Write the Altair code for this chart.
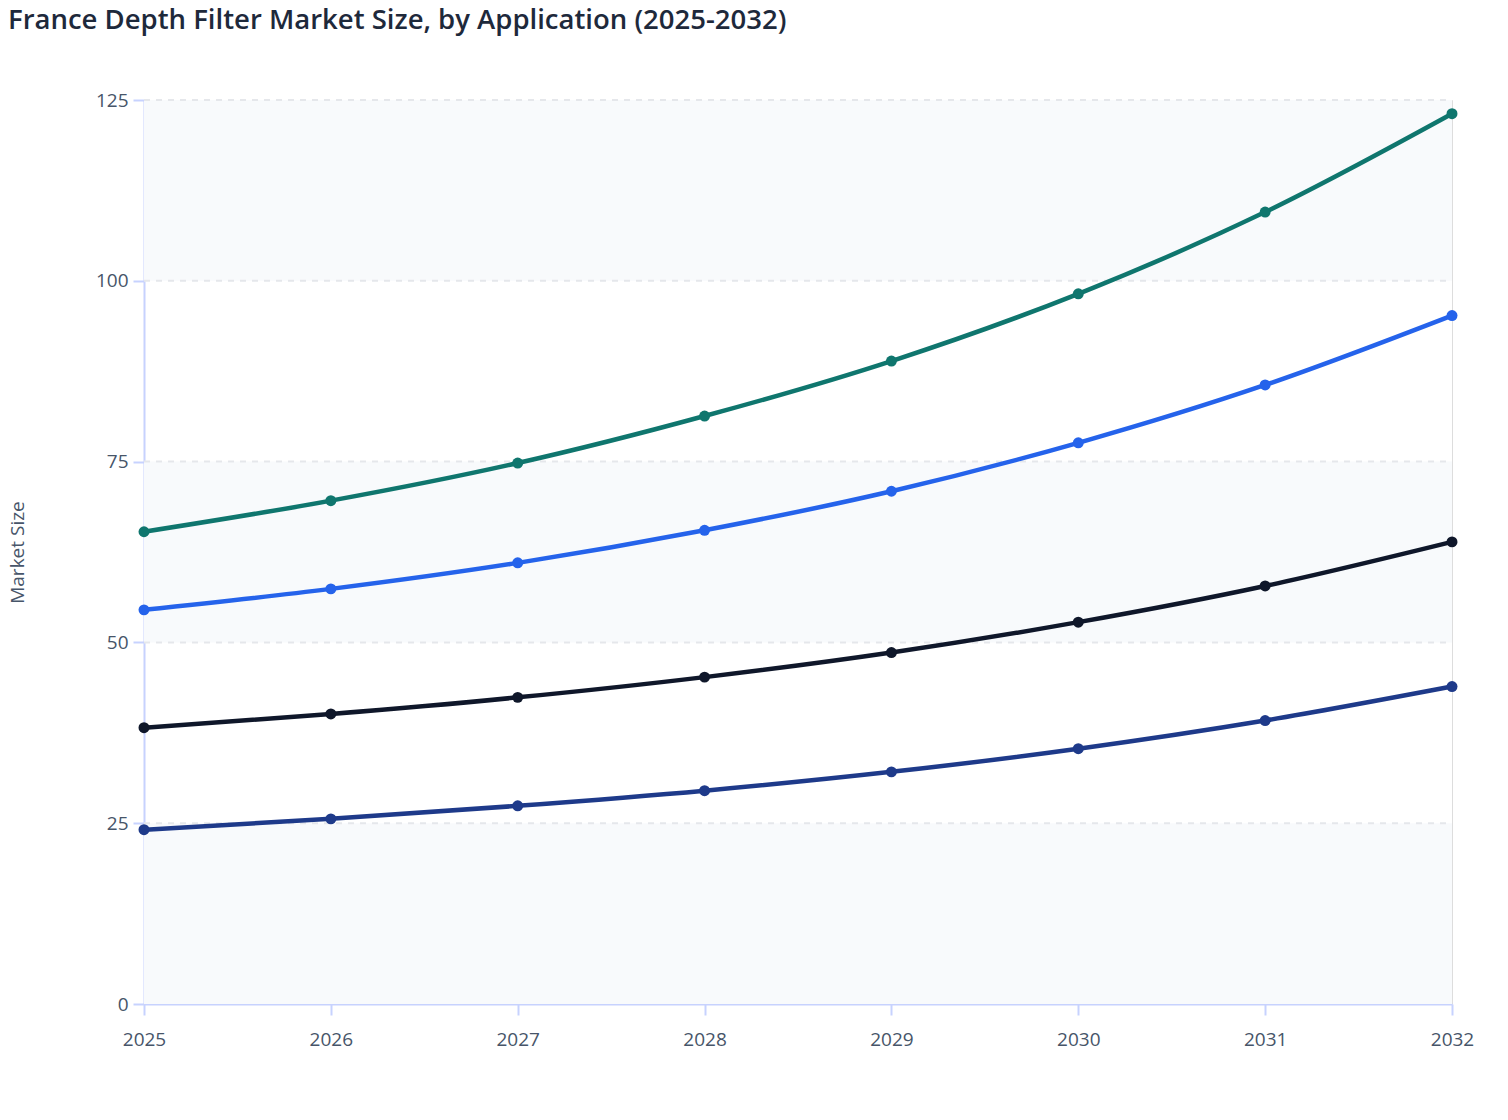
import altair as alt
import pandas as pd

years = [2025, 2026, 2027, 2028, 2029, 2030, 2031, 2032]
series_names = ["Series A", "Series B", "Series C", "Series D"]
green = [65.3, 69.6, 74.8, 81.3, 88.9, 98.2, 109.5, 123.1]
blue = [54.5, 57.4, 61.0, 65.5, 70.9, 77.6, 85.6, 95.2]
black = [38.2, 40.1, 42.4, 45.2, 48.6, 52.8, 57.8, 63.9]
navy = [24.1, 25.6, 27.4, 29.5, 32.1, 35.3, 39.2, 43.9]
colors = ["#0f766e", "#2563eb", "#0f172a", "#1e3a8a"]
y_ticks = [0, 25, 50, 75, 100, 125]
grid_ticks = [25, 50, 75, 100, 125]
band_lo = [0, 50, 100]
band_hi = [25, 75, 125]

rows = []
for name, vals in zip(series_names, [green, blue, black, navy]):
    for yr, v in zip(years, vals):
        rows.append({"year": yr, "value": v, "series": name})
df = pd.DataFrame(rows)
bands = pd.DataFrame({"lo": band_lo, "hi": band_hi})
grid = pd.DataFrame({"g": grid_ticks})

font = "Open Sans"
xscale = alt.Scale(domain=[2025, 2032], nice=False, zero=False)
yscale = alt.Scale(domain=[0, 125], nice=False)

band_layer = alt.Chart(bands).mark_rect(color="#f8fafc").encode(
    y=alt.Y("lo:Q", scale=yscale),
    y2="hi:Q",
    x=alt.value(0),
    x2=alt.value(1308),
)

grid_layer = alt.Chart(grid).mark_rule(color="#e5e7eb", strokeWidth=2, strokeDash=[6, 6]).encode(
    y=alt.Y("g:Q", scale=yscale),
    x=alt.value(0),
    x2=alt.value(1308),
)

color = alt.Color("series:N", scale=alt.Scale(domain=series_names, range=colors), legend=None)

base = alt.Chart(df).encode(
    x=alt.X("year:Q", scale=xscale,
            axis=alt.Axis(values=years, format="d", title=None, grid=False,
                          labelFontSize=19, labelColor="#475569", labelFont=font,
                          tickColor="#c7d2fe", tickSize=11, tickWidth=2,
                          domainColor="#c7d2fe", domainWidth=2, labelPadding=15,
                          labelFlush=False)),
    y=alt.Y("value:Q", scale=yscale,
            axis=alt.Axis(values=y_ticks, title="Market Size", titleFontSize=19,
                          titleColor="#475569", titleFont=font, titleFontWeight="normal",
                          titleX=-127, titleY=452, titleAngle=270, titleBaseline="middle",
                          titleAlign="center", grid=False,
                          labelFontSize=19, labelColor="#475569", labelFont=font,
                          tickColor="#c7d2fe", tickSize=11, tickWidth=2,
                          domainColor="#c7d2fe", domainWidth=2, labelPadding=5)),
    color=color,
)

lines = base.mark_line(strokeWidth=4.5, interpolate="monotone")
points = base.mark_circle(size=120, opacity=1)

chart = alt.layer(band_layer, grid_layer, lines, points).properties(
    width=1308,
    height=904,
    autosize="none",
    padding={"left": 136, "top": 92, "right": 48, "bottom": 100},
    title=alt.TitleParams(
        "France Depth Filter Market Size, by Application (2025-2032)",
        anchor="start", frame="group", fontSize=27.5, font=font, fontWeight=600,
        color="#1e293b", dx=-136, dy=-57, offset=0,
    ),
).configure_view(strokeWidth=0, stroke="transparent").configure(background="white")

chart.save("out.html", embed_options={"renderer": "svg", "actions": False})
